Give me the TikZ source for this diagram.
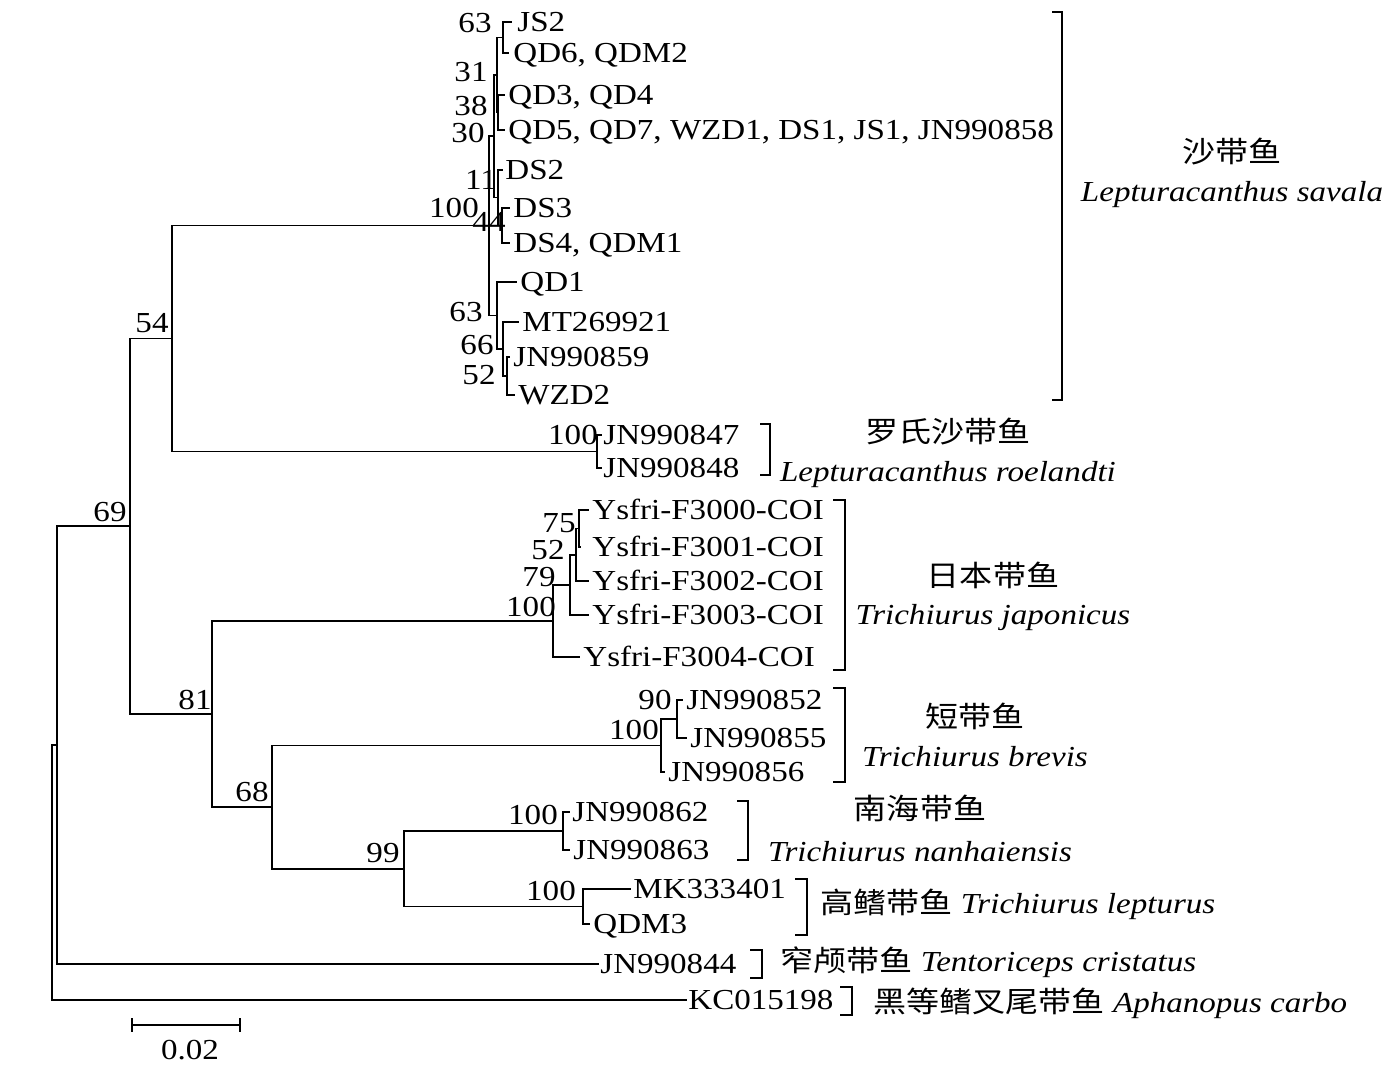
\documentclass[tikz,border=0pt]{standalone}
\usepackage{fontspec}
\setmainfont{Liberation Serif}[FakeStretch=1.14]
\newfontfamily\cjk{Noto Sans CJK SC}[FakeStretch=1.14]
\begin{document}
\begin{tikzpicture}[x=0.5pt,y=-0.5pt,
  br/.style={line width=0.8pt, line cap=rect},
  tip/.style={anchor=base west, inner sep=0pt, yshift=-4.8pt},
  bs/.style={anchor=base, inner sep=0pt, yshift=-4.8pt},
  grp/.style={anchor=base, inner sep=0pt, yshift=-4.8pt},
  grpc/.style={anchor=base, inner sep=0pt, yshift=-5.3pt},
  grpl/.style={anchor=base west, inner sep=0pt, yshift=-4.8pt},
  brk/.style={line width=0.8pt}]
\fontsize{14.5}{17}\selectfont
\fill[white] (0,0) rectangle (1396,1068);
\useasboundingbox (0,0) rectangle (1396,1068);

% ---- tips (branch ends)
\coordinate (tJS2) at (511,22);
\coordinate (tQD6) at (508,53);
\coordinate (tQD3) at (504,95);
\coordinate (tQD5) at (504,130);
\coordinate (tDS2) at (502,170);
\coordinate (tDS3) at (509,208);
\coordinate (tDS4) at (509,243);
\coordinate (tQD1) at (516,282);
\coordinate (tMT) at (518,322);
\coordinate (tJN859) at (509,357);
\coordinate (tWZD2) at (514,395);
\coordinate (t847) at (601,435);
\coordinate (t848) at (601,468);
\coordinate (tF0) at (588,510);
\coordinate (tF1) at (580,547);
\coordinate (tF2) at (588,581);
\coordinate (tF3) at (588,615);
\coordinate (tF4) at (579,657);
\coordinate (t852) at (682,700);
\coordinate (t855) at (686,738);
\coordinate (t856) at (664,772);
\coordinate (t862) at (569,812);
\coordinate (t863) at (569,850);
\coordinate (tMK) at (630,889);
\coordinate (tQDM3) at (589,924);
\coordinate (tJN844) at (598,964);
\coordinate (tKC) at (686,1000);

% ---- internal nodes
\coordinate (n63a) at (503,37.5);
\coordinate (n38) at (498,112.5);
\coordinate (n31) at (497,75);
\coordinate (n44) at (502,225.5);
\coordinate (n11) at (498,197.5);
\coordinate (n30) at (494,136);
\coordinate (n52) at (507,376);
\coordinate (n66) at (503,349);
\coordinate (n63b) at (497,315.5);
\coordinate (R) at (489,225.5);
\coordinate (nRo) at (597,451.5);
\coordinate (n54) at (172,338.5);
\coordinate (n75) at (579,528.5);
\coordinate (n52j) at (576,555);
\coordinate (n79) at (570,585);
\coordinate (n100j) at (553,621);
\coordinate (n90) at (677,719);
\coordinate (nBr) at (661,745.5);
\coordinate (n100n) at (563,831);
\coordinate (n100l) at (583,906.5);
\coordinate (n99) at (404,868.75);
\coordinate (n68) at (272,807);
\coordinate (n81) at (212,714);
\coordinate (n69) at (130,526);
\coordinate (c57) at (57,745);
\coordinate (r0) at (52,872);

% ---- branches
\draw[br] (tJS2) -| (n63a) |- (tQD6);
\draw[br] (tQD3) -| (n38) |- (tQD5);
\draw[br] (n63a) -| (n31) |- (n38);
\draw[br] (tDS3) -| (n44) |- (tDS4);
\draw[br] (tDS2) -| (n11) |- (n44);
\draw[br] (n31) -| (n30) |- (n11);
\draw[br] (tJN859) -| (n52) |- (tWZD2);
\draw[br] (tMT) -| (n66) |- (n52);
\draw[br] (tQD1) -| (n63b) |- (n66);
\draw[br] (n30) -| (R) |- (n63b);
\draw[br] (t847) -| (nRo) |- (t848);
\draw[br] (R) -| (n54) |- (nRo);
\draw[br] (tF0) -| (n75) |- (tF1);
\draw[br] (n75) -| (n52j) |- (tF2);
\draw[br] (n52j) -| (n79) |- (tF3);
\draw[br] (n79) -| (n100j) |- (tF4);
\draw[br] (t852) -| (n90) |- (t855);
\draw[br] (n90) -| (nBr) |- (t856);
\draw[br] (t862) -| (n100n) |- (t863);
\draw[br] (tMK) -| (n100l) |- (tQDM3);
\draw[br] (n100n) -| (n99) |- (n100l);
\draw[br] (nBr) -| (n68) |- (n99);
\draw[br] (n100j) -| (n81) |- (n68);
\draw[br] (n54) -| (n69) |- (n81);
\draw[br] (n69) -| (c57) |- (tJN844);
\draw[br] (c57) -| (r0) |- (tKC);

% ---- tip labels
\node[tip] (lJS2) at (517,22) {JS2};
\node[tip] (lQD6) at (513,53) {QD6, QDM2};
\node[tip] (lQD3) at (508,95) {QD3, QD4};
\node[tip] (lQD5) at (508,130) {QD5, QD7, WZD1, DS1, JS1, JN990858};
\node[tip] (lDS2) at (505,170) {DS2};
\node[tip] (lDS3) at (513,208) {DS3};
\node[tip] (lDS4) at (513,243) {DS4, QDM1};
\node[tip] (lQD1) at (520,282) {QD1};
\node[tip] (lMT) at (522,322) {MT269921};
\node[tip] (lJN859) at (513,357) {JN990859};
\node[tip] (lWZD2) at (518,395) {WZD2};
\node[tip] (l847) at (603,435) {JN990847};
\node[tip] (l848) at (603,468) {JN990848};
\node[tip] (lF0) at (592,510) {Ysfri-F3000-COI};
\node[tip] (lF1) at (592,547) {Ysfri-F3001-COI};
\node[tip] (lF2) at (592,581) {Ysfri-F3002-COI};
\node[tip] (lF3) at (592,615) {Ysfri-F3003-COI};
\node[tip] (lF4) at (583,657) {Ysfri-F3004-COI};
\node[tip] (l852) at (686,700) {JN990852};
\node[tip] (l855) at (690,738) {JN990855};
\node[tip] (l856) at (668,772) {JN990856};
\node[tip] (l862) at (572,812) {JN990862};
\node[tip] (l863) at (573,850) {JN990863};
\node[tip] (lMK) at (633,889) {MK333401};
\node[tip] (lQDM3) at (593,924) {QDM3};
\node[tip] (lJN844) at (600,964) {JN990844};
\node[tip] (lKC) at (688,1000) {KC015198};

% ---- bootstrap values
\node[bs] (b63a) at (475,23) {63};
\node[bs] (b31) at (471,72) {31};
\node[bs] (b38) at (471,106) {38};
\node[bs] (b30) at (468,133) {30};
\node[bs] (b11) at (481,180) {11};
\node[bs] (b100R) at (454,208) {100};
\node[bs] (b44) at (489,222) {44};
\node[bs] (b63b) at (466,312) {63};
\node[bs] (b66) at (477,345) {66};
\node[bs] (b52) at (479,375) {52};
\node[bs] (b54) at (152,323) {54};
\node[bs] (b100Ro) at (573,435) {100};
\node[bs] (b69) at (110,512) {69};
\node[bs] (b75) at (559,523) {75};
\node[bs] (b52j) at (548,550) {52};
\node[bs] (b79) at (539,577) {79};
\node[bs] (b100j) at (531,607) {100};
\node[bs] (b81) at (195,700) {81};
\node[bs] (b90) at (655,700) {90};
\node[bs] (b100Br) at (634,730) {100};
\node[bs] (b68) at (252,792) {68};
\node[bs] (b100n) at (533,815) {100};
\node[bs] (b99) at (383,853) {99};
\node[bs] (b100l) at (551,891) {100};

% ---- clade brackets
\draw[brk] (1052,12) -- (1062,12) -- (1062,400) -- (1052,400);
\draw[brk] (760,424) -- (770,424) -- (770,475) -- (760,475);
\draw[brk] (833,500) -- (845,500) -- (845,670) -- (833,670);
\draw[brk] (833,688) -- (845,688) -- (845,782) -- (833,782);
\draw[brk] (737,801) -- (748,801) -- (748,860) -- (737,860);
\draw[brk] (795,879) -- (807,879) -- (807,935) -- (795,935);
\draw[brk] (750,950) -- (762,950) -- (762,978) -- (750,978);
\draw[brk] (840,987) -- (852,987) -- (852,1015) -- (840,1015);

% ---- clade names
\node[grpc] (g1c) at (1232,152) {\cjk 沙带鱼};
\node[grp] (g1l) at (1232,192) {\itshape Lepturacanthus savala};
\node[grpc] (g2c) at (948,432) {\cjk 罗氏沙带鱼};
\node[grp] (g2l) at (948,472) {\itshape Lepturacanthus roelandti};
\node[grpc] (g3c) at (993,576) {\cjk 日本带鱼};
\node[grp] (g3l) at (993,615) {\itshape Trichiurus japonicus};
\node[grpc] (g4c) at (975,717) {\cjk 短带鱼};
\node[grp] (g4l) at (975,757) {\itshape Trichiurus brevis};
\node[grpc] (g5c) at (920,809) {\cjk 南海带鱼};
\node[grp] (g5l) at (920,852) {\itshape Trichiurus nanhaiensis};
\node[grpl] (g6) at (820,904) {{\cjk 高鳍带鱼} \textit{Trichiurus lepturus}};
\node[grpl] (g7) at (780,962) {{\cjk 窄颅带鱼} \textit{Tentoriceps cristatus}};
\node[grpl] (g8) at (873,1003) {{\cjk 黑等鳍叉尾带鱼} \textit{Aphanopus carbo}};

% ---- scale bar
\coordinate (sbL) at (132,1025);
\coordinate (sbR) at (240,1025);
\draw[brk] (sbL) -- (sbR);
\draw[brk] (132,1018) -- (132,1032);
\draw[brk] (240,1018) -- (240,1032);
\node[bs] (sbt) at (190,1050) {0.02};
\end{tikzpicture}
\end{document}
